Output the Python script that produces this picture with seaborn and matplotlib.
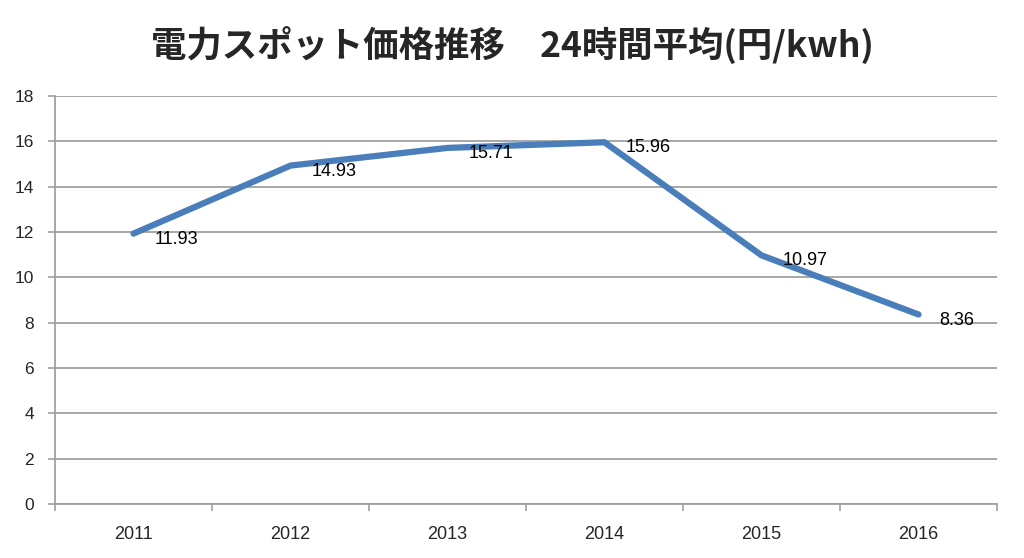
import matplotlib
matplotlib.use("Agg")
import matplotlib.pyplot as plt
import seaborn as sns
import pandas as pd
import numpy as np
from matplotlib.ticker import FixedLocator

years = ["2011", "2012", "2013", "2014", "2015", "2016"]
prices = [11.93, 14.93, 15.71, 15.96, 10.97, 8.36]
price_labels = ["11.93", "14.93", "15.71", "15.96", "10.97", "8.36"]
y_ticks = [0, 2, 4, 6, 8, 10, 12, 14, 16, 18]
title = "電力スポット価格推移\u300024時間平均(円/kwh)"

sns.set_theme(style="white")
plt.rcParams['font.family'] = ['Liberation Sans', 'Noto Sans CJK JP', 'DejaVu Sans']

df = pd.DataFrame({"year": years, "price": prices})

fig = plt.figure(figsize=(10.24, 5.58), dpi=100)
ax = fig.add_axes([55/1024, 1-504/558, (997-55)/1024, (504-96)/558])

pos = np.arange(len(years))
sns.lineplot(x=pos, y=df["price"], ax=ax, color="#4A7EBB", linewidth=4.5,
             solid_capstyle="round", solid_joinstyle="round", zorder=3)

for i, (v, lab) in enumerate(zip(prices, price_labels)):
    ax.annotate(lab, (i, v), xytext=(15, -4), textcoords="offset points",
                ha="left", va="center", fontsize=13, color="black",
                family=['Liberation Sans', 'DejaVu Sans'], zorder=4)

ax.set_xlim(-0.5, len(years) - 0.5)
ax.set_ylim(0, 18)
ax.set_yticks(y_ticks)
ax.set_yticklabels([str(t) for t in y_ticks], fontsize=12.5)
ax.set_xticks(pos)
ax.set_xticklabels(years, fontsize=13)
ax.xaxis.set_minor_locator(FixedLocator(np.arange(-0.5, len(years), 1.0)))
ax.tick_params(axis="x", which="major", length=0, pad=16)
ax.tick_params(axis="x", which="minor", length=5, width=1.2, color="#A0A0A0", direction="out")
ax.tick_params(axis="y", which="major", length=5, width=1.2, color="#A0A0A0", direction="out", pad=10)
ax.xaxis.set_ticks_position("bottom")
ax.yaxis.set_ticks_position("left")

ax.grid(axis="y", color="#A0A0A0", linewidth=1.3)
ax.grid(axis="x", visible=False)
ax.set_axisbelow(True)
for s in ["top", "right"]:
    ax.spines[s].set_visible(False)
for s in ["left", "bottom"]:
    ax.spines[s].set_color("#A0A0A0")
    ax.spines[s].set_linewidth(1.3)
ax.set_xlabel("")
ax.set_ylabel("")

fig.text(0.5, 1-45/558, title, ha="center", va="center", fontsize=25.5, fontweight="bold",
         family=['Noto Sans CJK JP', 'DejaVu Sans'])

fig.savefig("out.png", dpi=100)
